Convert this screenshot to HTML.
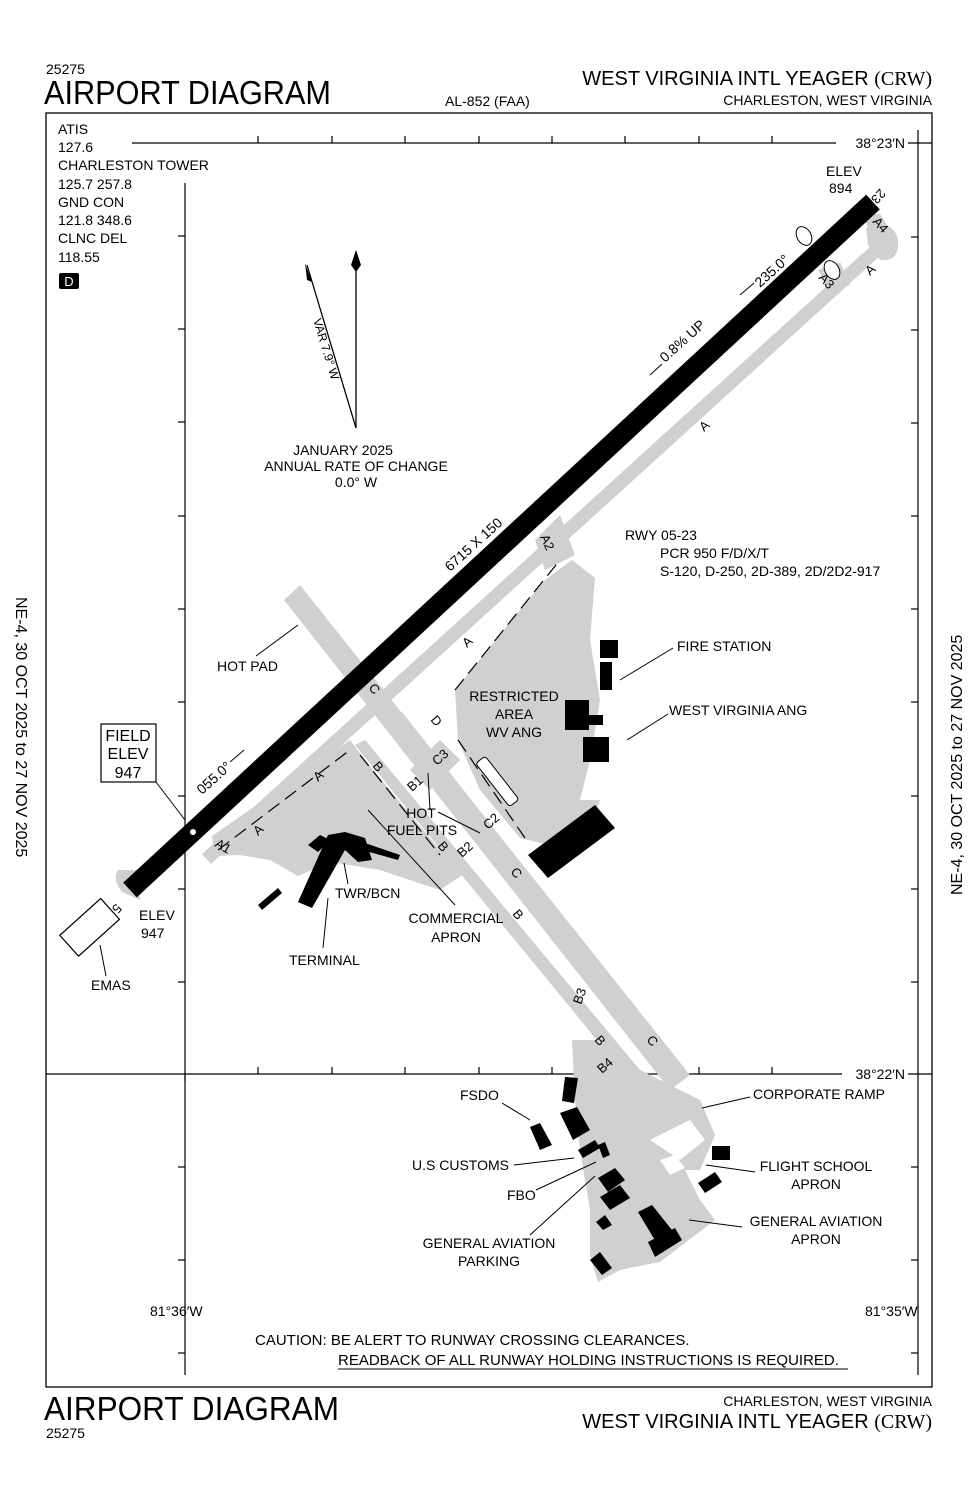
<!DOCTYPE html>
<html><head><meta charset="utf-8"><style>
html,body{margin:0;padding:0;background:#fff}
svg{display:block}
text{font-family:"Liberation Sans",sans-serif;fill:#000}
</style></head><body>
<svg width="978" height="1500" viewBox="0 0 978 1500" xmlns="http://www.w3.org/2000/svg">
<!-- header -->
<text x="46" y="74" font-size="14">25275</text>
<text x="44" y="104" font-size="33" textLength="287" lengthAdjust="spacingAndGlyphs">AIRPORT DIAGRAM</text>
<text x="445" y="106" font-size="14">AL-852 (FAA)</text>
<text x="932" y="85" font-size="20" text-anchor="end">WEST VIRGINIA INTL YEAGER <tspan font-family="Liberation Serif">(CRW)</tspan></text>
<text x="932" y="105" font-size="14" text-anchor="end">CHARLESTON, WEST VIRGINIA</text>
<!-- frame -->
<rect x="46" y="113" width="886" height="1274" fill="none" stroke="#000" stroke-width="1.3"/>
<!-- side labels -->
<text x="0" y="0" font-size="16" transform="translate(16,597) rotate(90)">NE-4,  30 OCT 2025  to  27 NOV 2025</text>
<text x="0" y="0" font-size="16" transform="translate(962,895) rotate(-90)">NE-4,  30 OCT 2025  to  27 NOV 2025</text>
<!-- grid -->
<g stroke="#000" stroke-width="1.2">
<line x1="132" y1="143" x2="932" y2="143"/>
<line x1="185" y1="183" x2="185" y2="1375"/>
<line x1="918" y1="130" x2="918" y2="1375"/>
<line x1="46" y1="1074" x2="932" y2="1074"/>
<g>
<line x1="178" y1="236" x2="185" y2="236"/><line x1="178" y1="329" x2="185" y2="329"/><line x1="178" y1="422" x2="185" y2="422"/><line x1="178" y1="516" x2="185" y2="516"/><line x1="178" y1="609" x2="185" y2="609"/><line x1="178" y1="702" x2="185" y2="702"/><line x1="178" y1="796" x2="185" y2="796"/><line x1="178" y1="889" x2="185" y2="889"/><line x1="178" y1="982" x2="185" y2="982"/><line x1="178" y1="1167" x2="185" y2="1167"/><line x1="178" y1="1260" x2="185" y2="1260"/><line x1="178" y1="1353" x2="185" y2="1353"/>
</g>
<g>
<line x1="911" y1="237" x2="918" y2="237"/><line x1="911" y1="330" x2="918" y2="330"/><line x1="911" y1="423" x2="918" y2="423"/><line x1="911" y1="516" x2="918" y2="516"/><line x1="911" y1="609" x2="918" y2="609"/><line x1="911" y1="702" x2="918" y2="702"/><line x1="911" y1="796" x2="918" y2="796"/><line x1="911" y1="889" x2="918" y2="889"/><line x1="911" y1="982" x2="918" y2="982"/><line x1="911" y1="1167" x2="918" y2="1167"/><line x1="911" y1="1260" x2="918" y2="1260"/><line x1="911" y1="1353" x2="918" y2="1353"/>
</g>
<g>
<line x1="258" y1="136" x2="258" y2="143"/><line x1="332" y1="136" x2="332" y2="143"/><line x1="405" y1="136" x2="405" y2="143"/><line x1="479" y1="136" x2="479" y2="143"/><line x1="552" y1="136" x2="552" y2="143"/><line x1="625" y1="136" x2="625" y2="143"/><line x1="699" y1="136" x2="699" y2="143"/><line x1="772" y1="136" x2="772" y2="143"/><line x1="845" y1="136" x2="845" y2="143"/>
<line x1="258" y1="1067" x2="258" y2="1074"/><line x1="332" y1="1067" x2="332" y2="1074"/><line x1="405" y1="1067" x2="405" y2="1074"/><line x1="479" y1="1067" x2="479" y2="1074"/><line x1="552" y1="1067" x2="552" y2="1074"/><line x1="625" y1="1067" x2="625" y2="1074"/><line x1="699" y1="1067" x2="699" y2="1074"/><line x1="772" y1="1067" x2="772" y2="1074"/><line x1="845" y1="1067" x2="845" y2="1074"/>
<line x1="185" y1="1074" x2="185" y2="1081"/>
</g>
</g>
<rect x="836" y="135" width="72" height="16" fill="#fff"/>
<text x="905" y="148" font-size="14" text-anchor="end">38°23′N</text>
<rect x="842" y="1066" width="66" height="16" fill="#fff"/>
<text x="905" y="1079" font-size="14" text-anchor="end">38°22′N</text>
<text x="150" y="1316" font-size="14">81°36′W</text>
<text x="865" y="1316" font-size="14">81°35′W</text>

<!-- freq -->
<g font-size="14">
<text x="58" y="134">ATIS</text><text x="58" y="152">127.6</text>
<text x="58" y="170">CHARLESTON TOWER</text><text x="58" y="189">125.7  257.8</text>
<text x="58" y="207">GND CON</text><text x="58" y="225">121.8  348.6</text>
<text x="58" y="243">CLNC DEL</text><text x="58" y="262">118.55</text>
</g>
<rect x="59" y="273" width="20" height="16" rx="2" fill="#000"/>
<text x="69" y="286" font-size="13" text-anchor="middle" style="fill:#fff">D</text>

<!-- compass -->
<line x1="356" y1="428" x2="356" y2="270" stroke="#000" stroke-width="1.3"/>
<path d="M356,250 L361,265 L356,272 L351,265 Z" fill="#000"/>
<line x1="356" y1="428" x2="307" y2="265" stroke="#000" stroke-width="1.3"/>
<path d="M305,263 L312,282 L307,280 Z" fill="#000"/>
<text x="0" y="0" font-size="12" transform="translate(313,320) rotate(73)">VAR 7.9° W</text>
<g font-size="14" text-anchor="middle"><text x="343" y="455">JANUARY 2025</text><text x="356" y="471">ANNUAL RATE OF CHANGE</text><text x="356" y="487">0.0° W</text></g>

<!-- pavement -->
<g fill="#d0d0d0" stroke="none">
<polygon points="284,600 300,585 690,1075 670,1090"/>
<polygon points="355,745 365,740 640,1070 628,1078"/>
<polygon points="390,720 402,712 495,830 482,838"/>
<polygon points="202,854 872,245 881,255 211,864"/>
<path d="M866,228 Q893,218 898,240 Q900,262 880,260 L868,245 Z"/>
<path d="M862,212 L880,214 L890,230 L872,238 Z"/>
<polygon points="818,270 840,262 850,285 830,292"/>
<polygon points="535,540 560,515 575,555 545,570"/>
<polygon points="410,770 440,740 460,760 430,790"/>
<polygon points="212,836 350,740 365,760 440,850 470,870 440,890 380,870 330,862 298,876 270,860 240,855 215,856"/>
<polygon points="455,690 520,610 545,580 572,560 595,578 590,640 600,700 590,760 580,800 600,800 590,830 548,845 520,838 480,790 458,740"/>
<path d="M118,870 Q112,880 122,892 L140,900 L138,870 Z"/>
<polygon points="572,1040 596,1040 640,1070 700,1100 715,1135 700,1170 685,1170 700,1200 715,1220 660,1262 620,1270 598,1282 590,1256 590,1210 580,1150 575,1100"/>
</g>
<g fill="#fff">
<polygon points="650,1140 690,1120 705,1140 680,1160"/>
<polygon points="660,1160 675,1155 685,1168 670,1175"/>
</g>

<g stroke="#000" stroke-width="1.2" stroke-dasharray="14,7" fill="none">
<line x1="218" y1="850" x2="350" y2="750"/>
<line x1="360" y1="755" x2="440" y2="855"/>
<line x1="455" y1="690" x2="560" y2="560"/>
<line x1="458" y1="740" x2="525" y2="838"/>
</g>
<rect x="470" y="775" width="55" height="12" rx="3" fill="#fff" stroke="#000" stroke-width="1" transform="rotate(52 497 781)"/>

<!-- runway -->
<line x1="130" y1="890" x2="873" y2="202" stroke="#000" stroke-width="20"/>
<circle cx="193" cy="832" r="3" fill="#fff"/>

<!-- buildings -->
<g fill="#000">
<polygon points="308,845 320,835 330,840 318,852"/>
<polygon points="328,835 345,832 365,838 372,860 358,862 345,850 312,908 298,902"/>
<polygon points="365,843 400,855 398,860 362,850"/>
<polygon points="258,905 278,888 282,893 262,910"/>
<rect x="600" y="640" width="18" height="18"/>
<rect x="600" y="662" width="12" height="28"/>
<rect x="565" y="700" width="24" height="30"/>
<rect x="583" y="715" width="20" height="10"/>
<rect x="583" y="737" width="26" height="25"/>
<polygon points="528,855 595,805 615,828 548,878"/>
<polygon points="565,1077 578,1078 574,1103 562,1101"/>
<polygon points="560,1113 577,1107 590,1130 573,1140"/>
<polygon points="530,1127 540,1123 552,1145 540,1150"/>
<polygon points="578,1150 595,1140 600,1148 583,1158"/>
<polygon points="598,1145 605,1142 610,1155 603,1158"/>
<polygon points="598,1178 615,1168 625,1180 608,1192"/>
<polygon points="600,1197 620,1185 630,1198 610,1210"/>
<polygon points="596,1222 605,1215 612,1225 603,1230"/>
<polygon points="638,1212 652,1205 680,1240 662,1252"/>
<polygon points="648,1242 675,1228 682,1240 655,1257"/>
<polygon points="590,1260 600,1252 612,1268 602,1275"/>
<rect x="712" y="1146" width="18" height="14"/>
<polygon points="698,1183 715,1172 722,1182 705,1193"/>
</g>

<g font-size="13">
<text transform="translate(880,188) rotate(132)">23</text>
<text transform="translate(872,222) rotate(48)">A4</text>
<text transform="translate(818,278) rotate(48)">A3</text>
<text transform="translate(870,276) rotate(-42)">A</text>
<text transform="translate(704,432) rotate(-42)">A</text>
<text transform="translate(467,648) rotate(-42)">A</text>
<text transform="translate(318,782) rotate(-42)">A</text>
<text transform="translate(258,836) rotate(-42)">A</text>
<text transform="translate(214,846) rotate(30)">A1</text>
<text transform="translate(540,537) rotate(65)">A2</text>
<text transform="translate(368,688) rotate(50)">C</text>
<text transform="translate(510,872) rotate(50)">C</text>
<text transform="translate(646,1040) rotate(50)">C</text>
<text transform="translate(430,720) rotate(50)">D</text>
<text transform="translate(437,766) rotate(-42)">C3</text>
<text transform="translate(488,830) rotate(-42)">C2</text>
<text transform="translate(372,766) rotate(50)">B</text>
<text transform="translate(437,846) rotate(50)">B</text>
<text transform="translate(512,914) rotate(50)">B</text>
<text transform="translate(594,1040) rotate(50)">B</text>
<text transform="translate(412,792) rotate(-42)">B1</text>
<text transform="translate(462,858) rotate(-42)">B2</text>
<text transform="translate(581,1005) rotate(-70)">B3</text>
<text transform="translate(602,1074) rotate(-42)">B4</text>
<text transform="translate(116,903) rotate(132)">5</text>
</g>
<g font-size="14">
<text transform="translate(450,572) rotate(-42)">6715 X 150</text>
<text transform="translate(665,363) rotate(-42)">0.8% UP</text>
<text transform="translate(760,288) rotate(-42)">235.0°</text>
<text transform="translate(202,795) rotate(-42)">055.0°</text>
</g>
<line x1="650" y1="375" x2="662" y2="364" stroke="#000"/>
<line x1="740" y1="295" x2="754" y2="283" stroke="#000"/>
<line x1="244" y1="750" x2="230" y2="762" stroke="#000"/>
<ellipse cx="804" cy="236" rx="7" ry="10" fill="#fff" stroke="#000" transform="rotate(-30 804 236)"/>
<ellipse cx="832" cy="270" rx="7" ry="10" fill="#fff" stroke="#000" transform="rotate(-30 832 270)"/>

<rect x="62" y="913" width="55" height="28" fill="#fff" stroke="#000" stroke-width="1.2" transform="rotate(-42 90 927)"/>

<g font-size="14">
<text x="826" y="176">ELEV</text><text x="829" y="193">894</text>
<text x="625" y="540">RWY 05-23</text>
<text x="660" y="558">PCR 950 F/D/X/T</text>
<text x="660" y="576">S-120, D-250, 2D-389, 2D/2D2-917</text>
<text x="677" y="651">FIRE STATION</text>
<text x="669" y="715">WEST VIRGINIA ANG</text>
<text x="514" y="701" text-anchor="middle">RESTRICTED</text>
<text x="514" y="719" text-anchor="middle">AREA</text>
<text x="514" y="737" text-anchor="middle">WV ANG</text>
<text x="217" y="671">HOT PAD</text>
<text x="421" y="818" text-anchor="middle">HOT</text>
<text x="422" y="835" text-anchor="middle">FUEL PITS</text>
<text x="335" y="898">TWR/BCN</text>
<text x="456" y="923" text-anchor="middle">COMMERCIAL</text>
<text x="456" y="942" text-anchor="middle">APRON</text>
<text x="289" y="965">TERMINAL</text>
<text x="139" y="920">ELEV</text><text x="141" y="938">947</text>
<text x="91" y="990">EMAS</text>
<text x="460" y="1100">FSDO</text>
<text x="412" y="1170">U.S CUSTOMS</text>
<text x="507" y="1200">FBO</text>
<text x="489" y="1248" text-anchor="middle">GENERAL AVIATION</text>
<text x="489" y="1266" text-anchor="middle">PARKING</text>
<text x="753" y="1099">CORPORATE RAMP</text>
<text x="816" y="1171" text-anchor="middle">FLIGHT SCHOOL</text>
<text x="816" y="1189" text-anchor="middle">APRON</text>
<text x="816" y="1226" text-anchor="middle">GENERAL AVIATION</text>
<text x="816" y="1244" text-anchor="middle">APRON</text>
</g>
<rect x="101" y="724" width="55" height="58" fill="#fff" stroke="#000" stroke-width="1.2"/>
<g font-size="16" text-anchor="middle"><text x="128" y="741">FIELD</text><text x="128" y="759">ELEV</text><text x="128" y="778">947</text></g>

<g stroke="#000" stroke-width="1" fill="none">
<line x1="256" y1="656" x2="298" y2="625"/>
<line x1="673" y1="648" x2="620" y2="680"/>
<line x1="668" y1="714" x2="627" y2="740"/>
<line x1="156" y1="782" x2="185" y2="820"/>
<line x1="430" y1="810" x2="428" y2="773"/>
<line x1="438" y1="812" x2="480" y2="833"/>
<line x1="348" y1="884" x2="344" y2="863"/>
<line x1="455" y1="905" x2="368" y2="810"/>
<line x1="323" y1="948" x2="328" y2="898"/>
<line x1="106" y1="976" x2="100" y2="945"/>
<line x1="502" y1="1103" x2="530" y2="1120"/>
<line x1="514" y1="1165" x2="574" y2="1158"/>
<line x1="536" y1="1190" x2="596" y2="1162"/>
<line x1="530" y1="1235" x2="595" y2="1176"/>
<line x1="750" y1="1097" x2="702" y2="1108"/>
<line x1="755" y1="1172" x2="706" y2="1165"/>
<line x1="742" y1="1227" x2="689" y2="1220"/>
</g>

<g font-size="15">
<text x="255" y="1345">CAUTION: BE ALERT TO RUNWAY CROSSING CLEARANCES.</text>
<text x="338" y="1365">READBACK OF ALL RUNWAY HOLDING INSTRUCTIONS IS REQUIRED.</text>
</g>
<line x1="338" y1="1369" x2="848" y2="1369" stroke="#000"/>

<text x="44" y="1420" font-size="33" textLength="295" lengthAdjust="spacingAndGlyphs">AIRPORT DIAGRAM</text>
<text x="46" y="1438" font-size="14">25275</text>
<text x="932" y="1406" font-size="14" text-anchor="end">CHARLESTON, WEST VIRGINIA</text>
<text x="932" y="1428" font-size="20" text-anchor="end">WEST VIRGINIA INTL YEAGER <tspan font-family="Liberation Serif">(CRW)</tspan></text>
</svg>
</body></html>
